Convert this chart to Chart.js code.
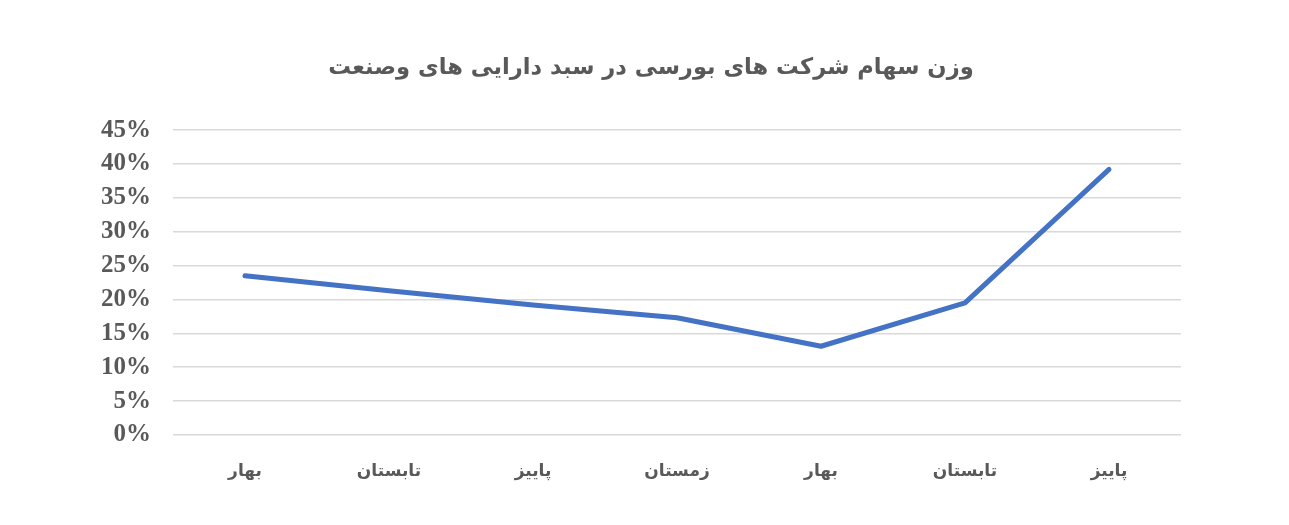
<!DOCTYPE html>
<html>
<head>
<meta charset="utf-8">
<script src="https://cdn.jsdelivr.net/npm/chart.js@4"></script>
<style>
html,body{margin:0;padding:0;background:#fff;}
#wrap{width:1289px;height:525px;position:relative;}
</style>
</head>
<body>
<div id="wrap"><canvas id="c" width="1289" height="525"></canvas></div>
<script>
const chartTitle = 'وزن سهام شرکت های بورسی در سبد دارایی های وصنعت';
const categories = ['بهار', 'تابستان', 'پاییز', 'زمستان', 'بهار', 'تابستان', 'پاییز'];
const shareValues = [23.5, 21.3, 19.2, 17.3, 13.1, 19.5, 39.2];
const yTicks = [0, 5, 10, 15, 20, 25, 30, 35, 40, 45];

new Chart(document.getElementById('c'), {
  type: 'line',
  data: {
    labels: categories,
    datasets: [{
      data: shareValues,
      borderColor: '#4472C4',
      borderWidth: 5,
      borderCapStyle: 'round',
      borderJoinStyle: 'round',
      pointRadius: 0,
      tension: 0,
      fill: false
    }]
  },
  options: {
    responsive: false,
    animation: false,
    layout: { padding: { left: 13, right: 0, top: 0, bottom: 30 } },
    plugins: {
      legend: { display: false },
      tooltip: { enabled: false },
      title: {
        display: true,
        text: chartTitle,
        color: '#595959',
        font: { family: 'DejaVu Sans', size: 22.6, weight: 'bold' },
        padding: { top: 55, bottom: 48 }
      }
    },
    scales: {
      x: {
        offset: true,
        grid: { display: false },
        border: { display: false },
        ticks: {
          color: '#595959',
          font: { family: 'DejaVu Sans', size: 17, weight: 'bold' },
          padding: 18,
          maxRotation: 0
        },
        afterFit: s => { s.height = 60; }
      },
      y: {
        min: 0,
        max: 45,
        afterBuildTicks: s => { s.ticks = yTicks.map(v => ({ value: v })); },
        grid: { color: '#d9d9d9', lineWidth: 1.5, drawTicks: false },
        border: { display: false },
        ticks: {
          color: '#595959',
          font: { family: 'Liberation Serif', size: 25, weight: 'bold' },
          padding: 22,
          callback: v => v + '%'
        },
        afterFit: s => { s.width = 160; }
      },
      yRight: {
        position: 'right',
        min: 0,
        max: 45,
        grid: { display: false },
        border: { display: false },
        ticks: { display: false },
        afterFit: s => { s.width = 108; }
      }
    }
  }
});
</script>
</body>
</html>
